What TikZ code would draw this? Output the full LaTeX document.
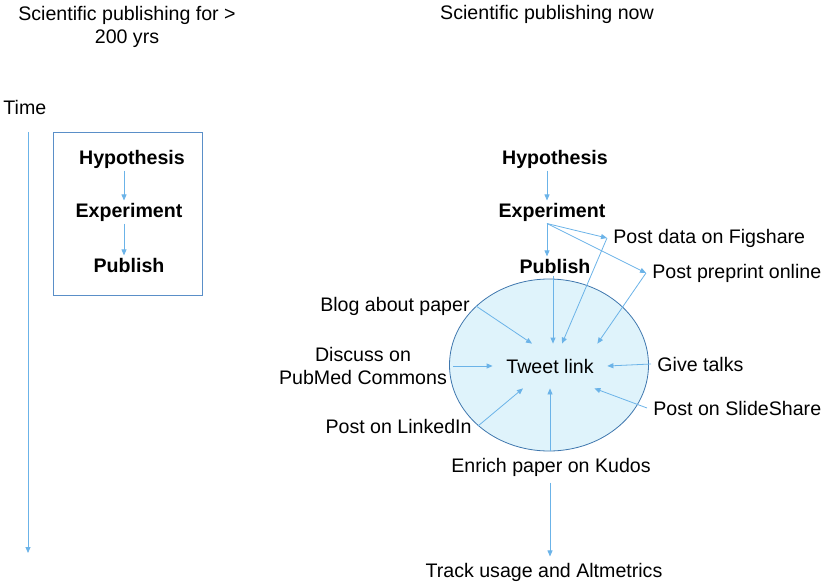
\documentclass[tikz,border=0pt]{standalone}
\usepackage{fontspec}
\setmainfont{Liberation Sans}
\usetikzlibrary{arrows.meta,shapes.geometric}
\definecolor{arrowblue}{HTML}{6BB3E8}
\definecolor{boxblue}{HTML}{5A8FC8}
\definecolor{cloudfill}{HTML}{DFF3FB}
\definecolor{cloudline}{HTML}{3F77AE}

\begin{document}
\begin{tikzpicture}[x=1pt,y=-1pt,line width=0.8pt,-{Triangle[length=6pt,width=5pt]},arrowblue,
  every node/.style={font=\fontsize{19.6}{23.5}\selectfont,text=black,inner sep=6pt},
  stage/.style={font=\fontsize{19.6}{23.5}\selectfont\bfseries,inner sep=2pt}]
  \useasboundingbox (0,0) rectangle (825,583);
  % 200 years
  \node[align=center] (oldtitle) at (127,27) {Scientific publishing for >\\200 yrs};
  \node[anchor=west,inner sep=2pt] (time) at (1,107) {Time};
  \coordinate (tstart) at (28,132);
  \coordinate (tend) at (28,553);
  \node[draw=boxblue,minimum width=149pt,minimum height=163pt] (oldbox) at (127.5,213.5) {};
  \node[stage] (oldhyp) at (132,159) {Hypothesis};
  \node[stage] (oldexp) at (129,212) {Experiment};
  \node[stage] (oldpub) at (129,265) {Publish};
  \path (tstart) edge (tend);
  \path ([xshift=-8pt]oldhyp.south) edge ([xshift=-5pt]oldexp.north);
  \path ([xshift=-5pt]oldexp.south) edge ([xshift=-5pt]oldpub.north);
  % now
  \node (newtitle) at (547,14) {Scientific publishing now};
  \node[stage] (hyp) at (555,159) {Hypothesis};
  \node[stage] (exp) at (552,212) {Experiment};
  \node[stage] (pub) at (555,266) {Publish};
  \node[ellipse,draw=cloudline,fill=cloudfill,minimum width=199pt,minimum height=172pt] (cloud) at (549,365) {};
  \node[minimum width=114pt,minimum height=44pt,inner sep=0pt] (tweet) at (550,366) {Tweet link};
  \node[anchor=west] (fig) at (607,238) {Post data on Figshare};
  \node[anchor=west] (preprint) at (646,273) {Post preprint online};
  \node[anchor=east] (blog) at (476,306) {Blog about paper};
  \node[align=center] (discuss) at (363,366) {Discuss on\\PubMed Commons};
  \node[anchor=east] (linkedin) at (478,426) {Post on LinkedIn};
  \node[anchor=west] (talks) at (651,364) {Give talks};
  \node[anchor=west] (slide) at (647,408) {Post on SlideShare};
  \node (kudos) at (551,467) {Enrich paper on Kudos};
  \node (track) at (544,572) {Track usage and Altmetrics};
  \path ([xshift=-8pt]hyp.south) edge ([xshift=-5pt]exp.north);
  \path ([xshift=-5pt]exp.south) edge ([xshift=-8pt]pub.north);
  \path ([xshift=-5pt]exp.south) edge (fig.west);
  \path ([xshift=-5pt]exp.south) edge (preprint.west);
  \path ([xshift=-2pt]pub.south) edge ([xshift=3pt]tweet.north);
  \path (fig.west) edge ([xshift=12pt]tweet.north);
  \path (preprint.west) edge ([xshift=-10pt]tweet.north east);
  \path (blog.east) edge ([xshift=-18pt]tweet.north);
  \path (discuss.east) edge (tweet.west);
  \path (talks.west) edge (tweet.east);
  \path (slide.west) edge ([xshift=-13pt]tweet.south east);
  \path (linkedin.east) edge ([xshift=-27pt]tweet.south);
  \path ([xshift=-1pt]kudos.north) edge (tweet.south);
  \path ([xshift=-1pt]kudos.south) edge ([xshift=-1pt]kudos.south |- track.north);
\end{tikzpicture}
\end{document}
